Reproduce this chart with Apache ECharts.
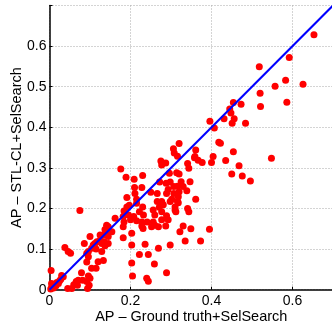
<!DOCTYPE html>
<html><head><meta charset="utf-8">
<script src="https://cdn.jsdelivr.net/npm/echarts@6/dist/echarts.min.js"></script>
<style>html,body{margin:0;padding:0;background:#fff}#c{width:332px;height:324px}</style>
</head><body><div id="c"></div>
<script>
const xTitle = "AP – Ground truth+SelSearch";
const yTitle = "AP – STL-CL+SelSearch";
const axisMin = 0, axisMax = 0.7;
const diagonal = [[0, 0], [0.7, 0.7]];
// [AP ground truth, AP STL-CL]
const points = [
 [0.003,0.002],[0.006,0.008],[0.010,0.004],[0.012,0.012],[0.016,0.010],[0.018,0.018],[0.022,0.015],[0.025,0.022],
 [0.028,0.026],[0.005,0.015],[0.004,0.047],[0.034,0.032],[0.030,0.035],
 [0.045,0.003],[0.055,0.003],[0.060,0.012],[0.066,0.020],[0.069,0.011],[0.071,0.023],[0.079,0.042],[0.082,0.023],
 [0.092,0.020],[0.094,0.003],[0.098,0.011],[0.096,0.034],[0.100,0.028],
 [0.038,0.104],[0.046,0.094],[0.052,0.090],[0.092,0.068],[0.104,0.053],[0.115,0.053],[0.120,0.069],[0.133,0.072],
 [0.092,0.090],[0.096,0.081],[0.096,0.094],[0.104,0.102],[0.108,0.110],[0.086,0.114],[0.100,0.131],[0.112,0.114],
 [0.117,0.118],[0.125,0.122],[0.129,0.114],[0.135,0.118],[0.129,0.094],[0.137,0.108],[0.145,0.114],[0.115,0.100],
 [0.125,0.135],[0.133,0.135],[0.137,0.148],[0.141,0.159],[0.145,0.131],[0.145,0.155],[0.149,0.143],[0.154,0.143],
 [0.075,0.195],
 [0.162,0.176],[0.182,0.180],[0.184,0.167],[0.195,0.184],[0.191,0.204],[0.184,0.194],[0.200,0.172],[0.208,0.180],
 [0.215,0.170],[0.228,0.167],[0.241,0.167],[0.256,0.167],[0.182,0.155],[0.182,0.128],[0.203,0.139],[0.203,0.110],
 [0.236,0.112],[0.222,0.087],[0.244,0.087],[0.203,0.066],[0.259,0.063],[0.205,0.034],[0.240,0.028],[0.244,0.021],
 [0.289,0.042],[0.269,0.102],[0.298,0.110],[0.335,0.120],[0.373,0.120],
 [0.228,0.157],[0.231,0.151],[0.252,0.155],[0.260,0.159],[0.269,0.155],[0.287,0.157],[0.330,0.157],[0.322,0.143],
 [0.349,0.150],[0.395,0.149],
 [0.176,0.297],[0.189,0.277],[0.209,0.272],[0.230,0.281],[0.210,0.252],[0.228,0.252],[0.250,0.240],[0.266,0.237],
 [0.211,0.237],[0.191,0.227],[0.215,0.223],[0.215,0.213],[0.230,0.204],[0.222,0.192],[0.232,0.184],[0.197,0.208],
 [0.266,0.217],[0.277,0.217],[0.281,0.209],[0.271,0.203],[0.256,0.196],[0.277,0.192],[0.260,0.184],[0.289,0.182],
 [0.277,0.172],[0.293,0.172],[0.310,0.196],[0.316,0.217],
 [0.275,0.317],[0.277,0.307],[0.287,0.312],[0.308,0.337],[0.316,0.329],[0.296,0.287],[0.314,0.288],[0.272,0.265],
 [0.288,0.262],[0.298,0.265],[0.307,0.254],[0.293,0.247],[0.316,0.255],[0.289,0.237],[0.307,0.237],[0.318,0.229],
 [0.302,0.223],[0.298,0.217],[0.318,0.214],[0.310,0.204],[0.312,0.192],[0.361,0.223],[0.341,0.200],[0.344,0.192],
 [0.359,0.328],[0.367,0.319],[0.377,0.313],[0.404,0.328],[0.400,0.313],[0.454,0.340],[0.435,0.318],[0.468,0.305],
 [0.450,0.285],[0.476,0.280],[0.496,0.268],[0.341,0.311],[0.344,0.299],[0.320,0.285],[0.325,0.266],[0.347,0.266],
 [0.330,0.254],[0.339,0.244],[0.320,0.241],[0.306,0.347],[0.320,0.360],[0.361,0.344],[0.358,0.325],
 [0.653,0.628],[0.592,0.572],[0.518,0.549],[0.583,0.516],[0.626,0.506],[0.557,0.501],[0.520,0.484],[0.586,0.462],
 [0.521,0.451],[0.454,0.461],[0.473,0.457],[0.445,0.445],[0.448,0.435],[0.431,0.421],[0.456,0.421],[0.451,0.410],
 [0.484,0.410],[0.396,0.415],[0.407,0.398],[0.418,0.363],[0.422,0.361],[0.548,0.324]
];
const font = "'Liberation Sans', Arial, sans-serif";
const chart = echarts.init(document.getElementById('c'));
const splitStyle = {show:true, lineStyle:{color:'#a8a8a8', type:[1,2], width:1}};
const fmt = v => (Math.abs(v-0.7)<1e-6)?'':String(+v.toFixed(1));
chart.setOption({
  animation:false,
  grid:{left:49.5, right:-1, top:5.5, bottom:34.3, containLabel:false, outerBoundsMode:'none'},
  xAxis:{type:'value', min:axisMin, max:axisMax, interval:0.2,
    name:xTitle, nameLocation:'middle', nameGap:18, nameMoveOverlap:false,
    nameTextStyle:{fontFamily:font, fontSize:14.5, color:'#000', padding:[2,0,0,0]},
    axisLine:{show:true, onZero:false, lineStyle:{color:'#000', width:1.5}},
    axisTick:{show:true, inside:true, length:3, lineStyle:{color:'#000'}},
    axisLabel:{fontFamily:font, fontSize:14, color:'#000', margin:4, formatter:fmt},
    splitLine:splitStyle},
  yAxis:{type:'value', min:axisMin, max:axisMax, interval:0.1,
    name:yTitle, nameLocation:'middle', nameGap:25, nameMoveOverlap:false,
    nameTextStyle:{fontFamily:font, fontSize:14.5, color:'#000'},
    axisLine:{show:true, onZero:false, lineStyle:{color:'#000', width:1.5}},
    axisTick:{show:true, inside:true, length:3, lineStyle:{color:'#000'}},
    axisLabel:{fontFamily:font, fontSize:14, color:'#000', margin:3, formatter:fmt},
    splitLine:splitStyle},
  series:[
    {type:'scatter', data:points, symbol:'circle', symbolSize:7,
     itemStyle:{color:'#ff0000', opacity:1}, z:2},
    {type:'line', data:diagonal, symbol:'none', lineStyle:{color:'#0000ff', width:2}, z:3, silent:true}
  ]
});
</script></body></html>
